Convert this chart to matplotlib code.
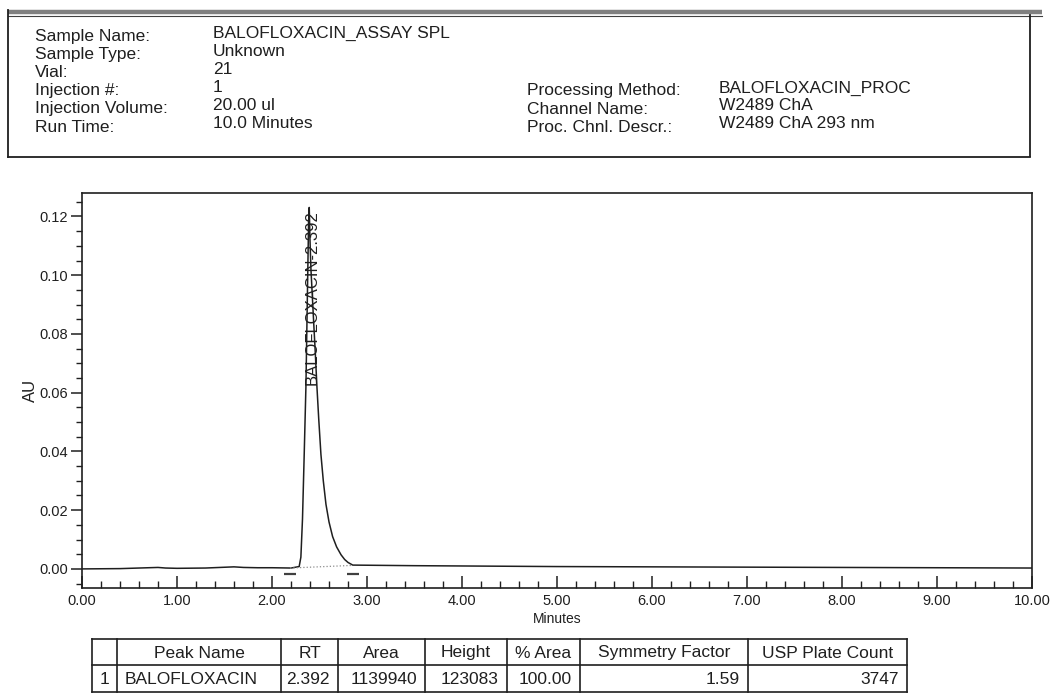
import matplotlib
matplotlib.use('Agg')
import matplotlib.pyplot as plt
from matplotlib import font_manager
from matplotlib.ticker import MultipleLocator, FormatStrFormatter

# sample and method information printed in the report header
info_labels = ['Sample Name:', 'Sample Type:', 'Vial:', 'Injection #:',
               'Injection Volume:', 'Run Time:']
info_values = ['BALOFLOXACIN_ASSAY SPL', 'Unknown', '21', '1',
               '20.00 ul', '10.0 Minutes']
method_labels = ['Processing Method:', 'Channel Name:', 'Proc. Chnl. Descr.:']
method_values = ['BALOFLOXACIN_PROC', 'W2489 ChA', 'W2489 ChA 293 nm']

# detector trace, minutes vs AU
time_min = [0.00, 0.40, 0.80, 0.88, 1.00, 1.30, 1.60, 1.70, 1.85, 2.00,
            2.20, 2.286, 2.304, 2.321, 2.339, 2.357, 2.374, 2.385, 2.392,
            2.400, 2.410, 2.437, 2.455, 2.473, 2.492, 2.515, 2.540, 2.568,
            2.600, 2.638, 2.680, 2.727, 2.765, 2.800, 2.850, 3.50, 5.00,
            7.00, 9.00, 10.00]
signal_au = [0.0000, 0.0001, 0.0005, 0.0003, 0.0002, 0.0003, 0.0007, 0.0005,
             0.0004, 0.0004, 0.0003, 0.0008, 0.0040, 0.0170, 0.0390, 0.0620,
             0.0960, 0.1180, 0.123083, 0.1120, 0.1020, 0.0850, 0.0740, 0.0620,
             0.0510, 0.0390, 0.0300, 0.0220, 0.0160, 0.0110, 0.0075, 0.0048,
             0.0032, 0.0022, 0.0013, 0.0011, 0.0008, 0.0006, 0.0004, 0.0003]

# integration results
peak_name = 'BALOFLOXACIN'
peak_rt = 2.392
peak_area = 1139940
peak_height = 123083
peak_pct_area = 100.00
symmetry = 1.59
plate_count = 3747
peak_start, peak_end = 2.19, 2.85
base_start, base_end = 0.0003, 0.0012

table_header = ['', 'Peak Name', 'RT', 'Area', 'Height', '% Area',
                'Symmetry Factor', 'USP Plate Count']
table_row = ['1', peak_name, f'{peak_rt:.3f}', f'{peak_area}', f'{peak_height}',
             f'{peak_pct_area:.2f}', f'{symmetry:.2f}', f'{plate_count}']

installed = {f.name for f in font_manager.fontManager.ttflist}
sans = 'Liberation Sans'
narrow = 'Liberation Sans Narrow' if 'Liberation Sans Narrow' in installed else sans
ink = '0.12'

fig = plt.figure(figsize=(10.5, 6.97), dpi=100)

# page layer in pixel units for the header box and the results table
page = fig.add_axes([0, 0, 1, 1])
page.set_xlim(0, 1050)
page.set_ylim(697, 0)
page.axis('off')

page.plot([8, 1042], [12, 12], color='0.5', lw=3.2, solid_capstyle='butt')
page.plot([8, 1042], [15.5, 15.5], color='0.25', lw=0.8)
page.plot([8, 8], [10, 157], color=ink, lw=1.3)
page.plot([1030, 1030], [15, 156], color=ink, lw=1.3)
page.plot([8, 1030], [156.5, 156.5], color=ink, lw=1.3)

for i, (lab, val) in enumerate(zip(info_labels, info_values)):
    y = 36 + i * 18.2
    page.text(35, y, lab, fontsize=12.5, family=sans, va='center', color=ink)
    page.text(213, y - 3, val, fontsize=12.5, family=sans, va='center', color=ink)

for i, (lab, val) in enumerate(zip(method_labels, method_values)):
    y = 91 + i * 18
    page.text(527, y, lab, fontsize=12.5, family=sans, va='center', color=ink)
    page.text(719, y - 3, val, fontsize=12.5, family=sans, va='center', color=ink)

# results table
col_edges = [92, 117, 281, 338, 425, 507, 580, 748, 907]
row_edges = [639, 665, 692]
for x in col_edges:
    page.plot([x, x], [row_edges[0], row_edges[-1]], color=ink, lw=1.2)
for y in row_edges:
    page.plot([col_edges[0], col_edges[-1]], [y, y], color=ink, lw=1.2)

cell_font = 12.5
for j, head in enumerate(table_header):
    xc = (col_edges[j] + col_edges[j + 1]) / 2
    page.text(xc, (row_edges[0] + row_edges[1]) / 2 + 1, head, fontsize=cell_font,
              family=sans, ha='center', va='center', color=ink)
for j, cell in enumerate(table_row):
    yc = (row_edges[1] + row_edges[2]) / 2 + 1
    if j == 0:
        page.text((col_edges[0] + col_edges[1]) / 2, yc, cell, fontsize=cell_font,
                  family=sans, ha='center', va='center', color=ink)
    elif j == 1:
        page.text(col_edges[1] + 8, yc, cell, fontsize=cell_font, family=sans,
                  ha='left', va='center', color=ink)
    else:
        page.text(col_edges[j + 1] - 8, yc, cell, fontsize=cell_font, family=sans,
                  ha='right', va='center', color=ink)

# chromatogram
ax = fig.add_axes([82 / 1050, 1 - 588 / 697, 950 / 1050, 395 / 697])
ax.patch.set_alpha(0)
ax.plot(time_min, signal_au, color=ink, lw=1.1)
ax.plot([peak_start, peak_end], [base_start, base_end], ls=':', color='0.55', lw=0.9)
ax.plot([peak_start, peak_end], [-0.0018, -0.0018], ls='none', marker='_',
        ms=8, mew=1.6, color='0.25')
ax.text(peak_rt + 0.03, peak_height / 1e6 - 0.0008, f'{peak_name}-{peak_rt:.3f}',
        rotation=90, ha='center', va='top', fontsize=12, family=narrow, color=ink)

ax.set_xlim(0, 10)
ax.set_ylim(-0.0065, 0.128)
ax.xaxis.set_major_locator(MultipleLocator(1))
ax.xaxis.set_minor_locator(MultipleLocator(0.2))
ax.xaxis.set_major_formatter(FormatStrFormatter('%.2f'))
ax.yaxis.set_major_locator(MultipleLocator(0.02))
ax.yaxis.set_minor_locator(MultipleLocator(0.005))
ax.yaxis.set_major_formatter(FormatStrFormatter('%.2f'))
ax.tick_params(axis='x', which='major', direction='in', length=9, width=1.1,
               pad=4, labelsize=10.5, colors=ink)
ax.tick_params(axis='x', which='minor', direction='in', length=5, width=1.0, colors=ink)
ax.tick_params(axis='y', which='major', direction='out', length=8, width=1.1,
               pad=2, labelsize=10.5, colors=ink)
ax.tick_params(axis='y', which='minor', direction='out', length=4, width=1.0, colors=ink)
for lab in ax.get_xticklabels() + ax.get_yticklabels():
    lab.set_family(narrow)
for sp in ax.spines.values():
    sp.set_color(ink)
    sp.set_linewidth(1.2)

ax.set_xlabel('Minutes', fontsize=10, family=narrow, labelpad=3, color=ink)
ax.set_ylabel('AU', fontsize=12, family=narrow, labelpad=1, color=ink)

fig.savefig('out.png', dpi=100)
